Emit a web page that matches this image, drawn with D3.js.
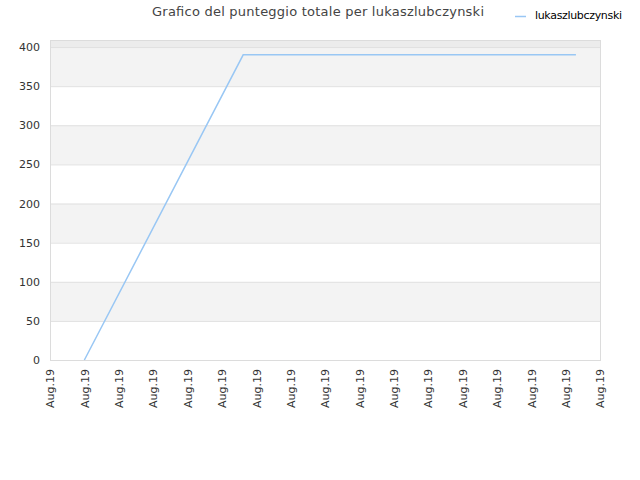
<!DOCTYPE html>
<html>
<head>
<meta charset="utf-8">
<script src="https://cdn.jsdelivr.net/npm/d3@7"></script>
<style>
  body { margin: 0; background: #fff; }
  text { font-family: "DejaVu Sans", sans-serif; }
</style>
</head>
<body>
<svg width="640" height="480"></svg>
<script>
// data
var seriesName = 'lukaszlubczynski';
var xTickLabels = ['Aug.19','Aug.19','Aug.19','Aug.19','Aug.19','Aug.19','Aug.19','Aug.19','Aug.19',
                   'Aug.19','Aug.19','Aug.19','Aug.19','Aug.19','Aug.19','Aug.19','Aug.19'];
var pointX = [1, 5.62, 15.3];
var pointY = [0, 390, 390];
var yTicks = [0, 50, 100, 150, 200, 250, 300, 350, 400];

var svg = d3.select('svg');
var plotL = 50, plotR = 600, plotT = 40, plotB = 360;

var x = d3.scaleLinear().domain([0, xTickLabels.length - 1]).range([plotL, plotR]);
var y = d3.scaleLinear().domain([0, 409]).range([plotB, plotT]);

// bands
var bandEdges = yTicks.concat([409]);
svg.append('g').selectAll('rect').data(d3.range(bandEdges.length - 1)).enter().append('rect')
   .attr('x', plotL)
   .attr('width', plotR - plotL)
   .attr('y', function (i) { return y(bandEdges[i + 1]); })
   .attr('height', function (i) { return y(bandEdges[i]) - y(bandEdges[i + 1]); })
   .attr('fill', function (i) { return i === 8 ? '#ececec' : (i % 2 ? '#f3f3f3' : '#fff'); });

// grid lines
svg.append('g').selectAll('line').data(yTicks).enter().append('line')
   .attr('x1', plotL).attr('x2', plotR)
   .attr('y1', function (d) { return y(d) + 0.5; })
   .attr('y2', function (d) { return y(d) + 0.5; })
   .attr('stroke', '#e0e0e0');

// frame
svg.append('rect')
   .attr('x', plotL + 0.5).attr('y', plotT + 0.5)
   .attr('width', plotR - plotL).attr('height', plotB - plotT)
   .attr('fill', 'none').attr('stroke', '#dcdcdc');

// y axis
var yAxis = svg.append('g').attr('transform', 'translate(' + (plotL - 10) + ',0)')
   .call(d3.axisLeft(y).tickValues(yTicks).tickSize(0));
yAxis.select('.domain').remove();
yAxis.selectAll('text').attr('fill', '#333').style('font-size', '11px')
   .style('font-family', '"DejaVu Sans", sans-serif').attr('x', 0);

// x axis
var xAxis = svg.append('g').attr('transform', 'translate(0,' + plotB + ')')
   .call(d3.axisBottom(x).tickValues(d3.range(xTickLabels.length)).tickSize(0)
           .tickFormat(function (d) { return xTickLabels[d]; }));
xAxis.select('.domain').remove();
xAxis.selectAll('text')
   .attr('fill', '#333').style('font-size', '11px')
   .style('font-family', '"DejaVu Sans", sans-serif')
   .attr('transform', 'rotate(-90)')
   .attr('text-anchor', 'end')
   .attr('x', -9).attr('y', 0).attr('dy', '0.35em');

// line
var line = d3.line()
   .x(function (d, i) { return x(pointX[i]); })
   .y(function (d) { return y(d); });
svg.append('path').datum(pointY)
   .attr('d', line)
   .attr('fill', 'none')
   .attr('stroke', '#99c7f4')
   .attr('stroke-width', 1.5);

// title
svg.append('text').attr('x', 318).attr('y', 16)
   .attr('text-anchor', 'middle')
   .attr('fill', '#444').style('font-size', '13px')
   .attr('textLength', 332)
   .text('Grafico del punteggio totale per ' + seriesName);

// legend
svg.append('line').attr('x1', 515).attr('x2', 526).attr('y1', 16.5).attr('y2', 16.5)
   .attr('stroke', '#99c7f4').attr('stroke-width', 1.5);
svg.append('text').attr('x', 535).attr('y', 19)
   .attr('fill', '#000').style('font-size', '11px').attr('textLength', 87)
   .text(seriesName);
</script>
</body>
</html>
